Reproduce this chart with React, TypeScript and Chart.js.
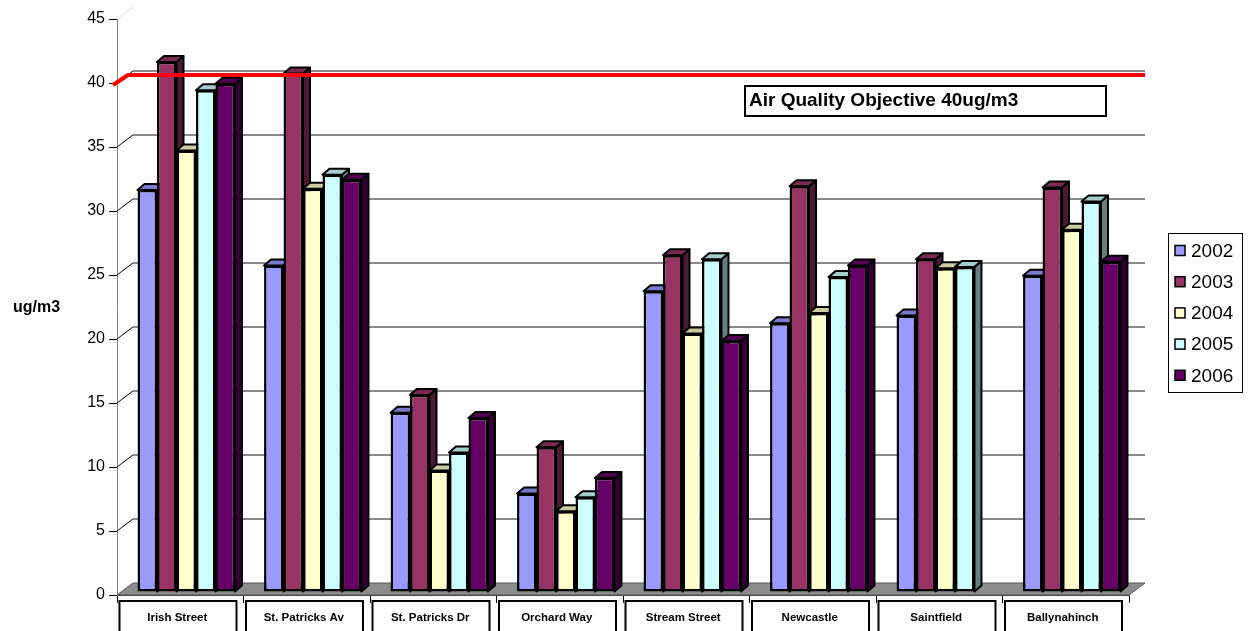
import React, { useEffect, useRef } from 'react';
import { Chart, registerables } from 'chart.js';

Chart.register(...registerables);

// ---------- data ----------
const categories = [
  'Irish Street',
  'St. Patricks Av',
  'St. Patricks Dr',
  'Orchard Way',
  'Stream Street',
  'Newcastle',
  'Saintfield',
  'Ballynahinch',
];
const years = ['2002', '2003', '2004', '2005', '2006'];
const values2002 = [31.4, 25.5, 14.0, 7.7, 23.5, 21.0, 21.6, 24.7];
const values2003 = [41.4, 40.5, 15.4, 11.3, 26.3, 31.7, 26.0, 31.6];
const values2004 = [34.5, 31.5, 9.5, 6.3, 20.2, 21.8, 25.3, 28.3];
const values2005 = [39.2, 32.6, 10.9, 7.4, 26.0, 24.6, 25.4, 30.5];
const values2006 = [39.7, 32.2, 13.6, 8.9, 19.6, 25.5, null, 25.8];
const seriesValues = [values2002, values2003, values2004, values2005, values2006];
const yMin = 0;
const yMax = 45;
const yStep = 5;
const objectiveValue = 40;
const objectiveLabel = 'Air Quality Objective 40ug/m3';
const yTitle = 'ug/m3';

// ---------- styles ----------
const FONT = '"Liberation Sans", Arial, sans-serif';
const frontColors = ['#9999FF', '#993366', '#FFFFCC', '#CCFFFF', '#660066'];
const WALL_DX = 16;
const WALL_DY = -12;
const BAR_SHIFT_X = 6;
const BAR_SHIFT_Y = -3;
const BAR_DX = 7;
const BAR_DY = -6;

function shade(hex: string, f: number): string {
  const n = parseInt(hex.slice(1), 16);
  const r = Math.round(((n >> 16) & 255) * f);
  const g = Math.round(((n >> 8) & 255) * f);
  const b = Math.round((n & 255) * f);
  return `rgb(${r},${g},${b})`;
}

const threeD = {
  id: 'threeD',
  beforeDatasetsDraw(chart: any) {
    const { ctx, chartArea: a, scales } = chart;
    const y = scales.y;
    ctx.save();
    // back wall gridlines and side wall diagonals
    for (const t of y.ticks) {
      const py = y.getPixelForValue(t.value);
      if (t.value > yMin && t.value < yMax) {
        ctx.strokeStyle = '#8a8a8a';
        ctx.lineWidth = 2;
        ctx.beginPath();
        ctx.moveTo(a.left + WALL_DX, py + WALL_DY);
        ctx.lineTo(a.right + WALL_DX, py + WALL_DY);
        ctx.stroke();
      }
      if (t.value > yMin) {
        ctx.strokeStyle = t.value >= yMax ? '#dddddd' : '#000';
        ctx.lineWidth = 1;
        ctx.beginPath();
        ctx.moveTo(a.left, py);
        ctx.lineTo(a.left + WALL_DX, py + WALL_DY);
        ctx.stroke();
      }
    }
    // floor
    const fy = a.bottom;
    ctx.fillStyle = '#8c8c8c';
    ctx.beginPath();
    ctx.moveTo(a.left, fy);
    ctx.lineTo(a.right, fy);
    ctx.lineTo(a.right + WALL_DX, fy + WALL_DY);
    ctx.lineTo(a.left + WALL_DX, fy + WALL_DY);
    ctx.closePath();
    ctx.fill();
    ctx.strokeStyle = '#555';
    ctx.lineWidth = 1;
    ctx.stroke();
    ctx.restore();

    // 3D side and top faces, left to right; fronts are drawn by Chart.js afterwards
    ctx.save();
    ctx.translate(BAR_SHIFT_X, BAR_SHIFT_Y);
    ctx.lineWidth = 2;
    ctx.lineJoin = 'round';
    ctx.strokeStyle = '#000';
    const nd = chart.data.datasets.length;
    for (let j = 0; j < categories.length; j++) {
      for (let d = 0; d < nd; d++) {
        const v = chart.data.datasets[d].data[j];
        if (v == null) continue;
        const el = chart.getDatasetMeta(d).data[j];
        if (!el) continue;
        const base = frontColors[d];
        const l = el.x - el.width / 2;
        const r = el.x + el.width / 2;
        const top = el.y;
        const bot = el.base;
        ctx.fillStyle = shade(base, 0.5);
        ctx.beginPath();
        ctx.moveTo(r, top);
        ctx.lineTo(r + BAR_DX, top + BAR_DY);
        ctx.lineTo(r + BAR_DX, bot + BAR_DY);
        ctx.lineTo(r, bot);
        ctx.closePath();
        ctx.fill();
        ctx.stroke();
        ctx.fillStyle = shade(base, 0.8);
        ctx.beginPath();
        ctx.moveTo(l, top);
        ctx.lineTo(l + BAR_DX, top + BAR_DY);
        ctx.lineTo(r + BAR_DX, top + BAR_DY);
        ctx.lineTo(r, top);
        ctx.closePath();
        ctx.fill();
        ctx.stroke();
      }
    }
    // keep translation active while Chart.js draws the front faces
  },
  afterDatasetsDraw(chart: any) {
    const { ctx, chartArea: a, scales } = chart;
    ctx.restore();
    // objective line
    const p = scales.y.getPixelForValue(objectiveValue);
    ctx.save();
    ctx.strokeStyle = '#FF0000';
    ctx.lineWidth = 4;
    ctx.lineJoin = 'round';
    ctx.beginPath();
    ctx.moveTo(a.left - 4, p + 2);
    ctx.lineTo(a.left + 11, p - 8);
    ctx.lineTo(a.right + WALL_DX, p - 8);
    ctx.stroke();
    ctx.restore();
  },
  afterDraw(chart: any) {
    const { ctx, chartArea: a } = chart;
    ctx.save();
    // category label boxes
    const n = categories.length;
    const cw = (a.right - a.left) / n;
    ctx.strokeStyle = '#000';
    ctx.lineWidth = 2;
    for (let i = 0; i < n; i++) {
      const l = a.left + i * cw + 2.5;
      const r = a.left + (i + 1) * cw - 7;
      ctx.strokeRect(l, a.bottom + 6, r - l, 60);
    }
    // y title
    ctx.fillStyle = '#000';
    ctx.font = `bold 16px ${FONT}`;
    ctx.textBaseline = 'middle';
    ctx.textAlign = 'left';
    ctx.fillText(yTitle, 13, 308);
    // annotation box
    ctx.fillStyle = '#fff';
    ctx.fillRect(745, 86, 361, 30);
    ctx.strokeStyle = '#000';
    ctx.lineWidth = 2;
    ctx.strokeRect(745, 86, 361, 30);
    ctx.fillStyle = '#000';
    ctx.font = `bold 19px ${FONT}`;
    ctx.fillText(objectiveLabel, 749, 101);
    // legend
    ctx.lineWidth = 1;
    ctx.strokeStyle = '#000';
    ctx.strokeRect(1168.5, 233.5, 74, 159);
    ctx.font = `19px ${FONT}`;
    chart.data.datasets.forEach((ds: any, i: number) => {
      const cy = 250.5 + i * 31.2;
      ctx.fillStyle = ds.backgroundColor;
      ctx.fillRect(1175, cy - 5, 10, 10);
      ctx.lineWidth = 1.5;
      ctx.strokeRect(1175, cy - 5, 10, 10);
      ctx.fillStyle = '#000';
      ctx.fillText(ds.label, 1191, cy + 1);
    });
    ctx.restore();
  },
};

export default function App() {
  const ref = useRef<HTMLCanvasElement | null>(null);
  useEffect(() => {
    document.body.style.margin = '0';
    const canvas = ref.current!;
    const chart = new Chart(canvas, {
      type: 'bar',
      data: {
        labels: categories,
        datasets: years.map((yr, i) => ({
          label: yr,
          data: seriesValues[i],
          backgroundColor: frontColors[i],
          borderColor: '#000',
          borderWidth: 2.5,
          borderSkipped: false,
          categoryPercentage: 0.77,
          barPercentage: 1.0,
          clip: false,
        })),
      },
      options: {
        responsive: false,
        animation: false,
        devicePixelRatio: 1,
        layout: { padding: { top: 19, right: 119, bottom: 0, left: 0 } },
        plugins: { legend: { display: false }, tooltip: { enabled: false } },
        scales: {
          x: {
            type: 'category',
            offset: true,
            grid: {
              display: true,
              drawOnChartArea: false,
              drawTicks: true,
              tickLength: 8,
              color: '#000',
              offset: true,
            },
            border: { display: true, color: '#444', width: 1 },
            ticks: {
              font: { family: FONT, size: 11.5, weight: 'bold' },
              color: '#000',
              padding: 8,
              labelOffset: -3,
              maxRotation: 0,
              autoSkip: false,
            },
            afterFit: (s: any) => {
              s.height = 36;
            },
          },
          y: {
            min: yMin,
            max: yMax,
            ticks: {
              stepSize: yStep,
              font: { family: FONT, size: 16 },
              color: '#000',
              padding: 4,
            },
            grid: {
              drawOnChartArea: false,
              drawTicks: true,
              tickLength: 8,
              tickColor: '#000',
            },
            border: { display: true, color: '#808080', width: 1 },
            afterFit: (s: any) => {
              s.width = 117;
            },
          },
        },
      },
      plugins: [threeD],
    } as any);
    return () => chart.destroy();
  }, []);
  return (
    <div style={{ width: 1248, height: 631, background: '#fff' }}>
      <canvas ref={ref} width={1248} height={631} style={{ display: 'block' }} />
    </div>
  );
}
